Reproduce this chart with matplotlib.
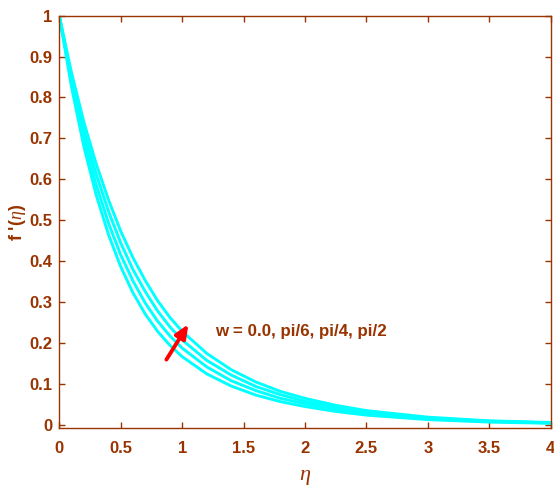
import numpy as np
import matplotlib
matplotlib.use("Agg")
import matplotlib.pyplot as plt

# data (f'(eta) for the four w values)
eta = [0.0, 0.1, 0.2, 0.3, 0.4, 0.5, 0.6, 0.7, 0.8, 0.9, 1.0,
       1.2, 1.4, 1.6, 1.8, 2.0, 2.25, 2.5, 3.0, 3.5, 4.0]
f_w0 = [1.0, 0.825, 0.680, 0.562, 0.465, 0.386, 0.322, 0.270, 0.228, 0.194, 0.166,
        0.124, 0.094, 0.072, 0.056, 0.044, 0.032, 0.023, 0.012, 0.006, 0.003]
f_pi6 = [1.0, 0.837, 0.700, 0.587, 0.493, 0.415, 0.351, 0.297, 0.253, 0.217, 0.187,
         0.141, 0.107, 0.083, 0.064, 0.051, 0.037, 0.027, 0.014, 0.007, 0.004]
f_pi4 = [1.0, 0.848, 0.720, 0.613, 0.522, 0.444, 0.379, 0.325, 0.278, 0.239, 0.207,
         0.157, 0.121, 0.093, 0.073, 0.057, 0.042, 0.030, 0.016, 0.008, 0.004]
f_pi2 = [1.0, 0.860, 0.740, 0.638, 0.550, 0.473, 0.408, 0.352, 0.303, 0.262, 0.228,
         0.174, 0.134, 0.104, 0.081, 0.064, 0.047, 0.034, 0.018, 0.009, 0.005]

xticks = [0, 0.5, 1, 1.5, 2, 2.5, 3, 3.5, 4]
xticklabels = ['0', '0.5', '1', '1.5', '2', '2.5', '3', '3.5', '4']
yticks = [0, 0.1, 0.2, 0.3, 0.4, 0.5, 0.6, 0.7, 0.8, 0.9, 1]
yticklabels = ['0', '0.1', '0.2', '0.3', '0.4', '0.5', '0.6', '0.7', '0.8', '0.9', '1']

brown = '#993300'
plt.rcParams['font.family'] = ['Liberation Sans', 'DejaVu Sans']
plt.rcParams['mathtext.fontset'] = 'custom'
plt.rcParams['mathtext.it'] = 'Liberation Serif:italic'
plt.rcParams['mathtext.rm'] = 'Liberation Sans:bold'

fig = plt.figure(figsize=(5.54, 4.86), dpi=100)
ax = fig.add_axes([0.107, 0.1187, 0.887, 0.849])

for f in [f_w0, f_pi6, f_pi4, f_pi2]:
    ax.plot(eta, f, color='#00FFFF', lw=2.1)

ax.set_xlim(0, 4)
ax.set_ylim(-0.0093, 1)
ax.set_xticks(xticks)
ax.set_xticklabels(xticklabels)
ax.set_yticks(yticks)
ax.set_yticklabels(yticklabels)

for s in ax.spines.values():
    s.set_color(brown)
    s.set_linewidth(1.0)
ax.tick_params(direction='in', length=4, width=1.0, color=brown, labelcolor=brown,
               labelsize=12, top=True, right=True)
ax.tick_params(axis='x', pad=9)
ax.tick_params(axis='y', pad=5)
for lbl in ax.get_xticklabels() + ax.get_yticklabels():
    lbl.set_fontweight('bold')

ax.set_xlabel(r'$\eta$', color=brown, fontsize=16, labelpad=7)
ax.set_ylabel(r"f '($\eta$)", color=brown, fontsize=13, fontweight='bold')
ax.yaxis.set_label_coords(-0.064, 0.5)

ax.annotate('', xy=(1.063, 0.251), xytext=(0.86, 0.153),
            arrowprops=dict(arrowstyle='-|>,head_length=0.8,head_width=0.35',
                            color='#FF0000', lw=2.8))
ax.text(1.27, 0.228, 'w = 0.0, pi/6, pi/4, pi/2', color=brown, fontsize=12.2,
        fontweight='bold', va='center')

fig.savefig('out.png', dpi=100)
